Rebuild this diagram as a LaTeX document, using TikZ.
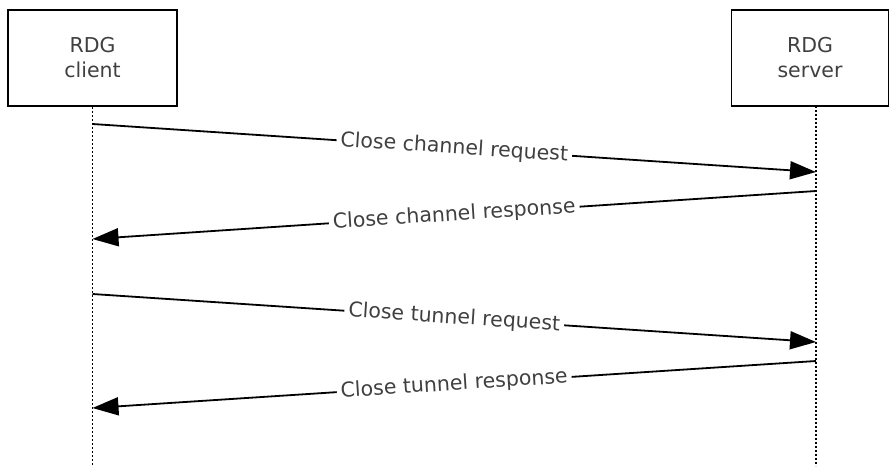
\documentclass[tikz,border=0pt]{standalone}
\usepackage{fontspec}
\setmainfont{DejaVu Sans}
\usetikzlibrary{arrows.meta}

\begin{document}
\begin{tikzpicture}[x=1pt, y=-1pt,
  actor/.style={draw, line width=1.6pt, align=center, text=black!75, font=\fontsize{20.5}{25}\selectfont, minimum height=96pt, inner sep=0pt},
  life/.style={line width=1.5pt, dash pattern=on 2pt off 2pt},
  msg/.style={line width=1.8pt, -{Triangle[length=26pt, width=18pt]}},
  lbl/.style={fill=white, sloped, inner sep=4pt, text=black!75, font=\fontsize{20.5}{25}\selectfont}]
\useasboundingbox (0,0) rectangle (890,466);
\node[actor, minimum width=169pt] (client) at (92.5,58) {RDG\\client};
\node[actor, minimum width=157pt] (server) at (810,58) {RDG\\server};
\coordinate (cbot) at (92.5,466);
\coordinate (stop) at (816,106);
\coordinate (sbot) at (816,466);
\draw[life] (client.south) -- (cbot);
\draw[life] (stop) -- (sbot);
% message ends on the life lines
\coordinate (c1) at (92.5,124); \coordinate (s1) at (816,172);
\coordinate (s2) at (816,191);  \coordinate (c2) at (92.5,239);
\coordinate (c3) at (92.5,294); \coordinate (s3) at (816,342);
\coordinate (s4) at (816,361);  \coordinate (c4) at (92.5,408);
\draw[msg] (c1) -- node[lbl] {Close channel request} (s1);
\draw[msg] (s2) -- node[lbl] {Close channel response} (c2);
\draw[msg] (c3) -- node[lbl] {Close tunnel request} (s3);
\draw[msg] (s4) -- node[lbl] {Close tunnel response} (c4);
\end{tikzpicture}
\end{document}
